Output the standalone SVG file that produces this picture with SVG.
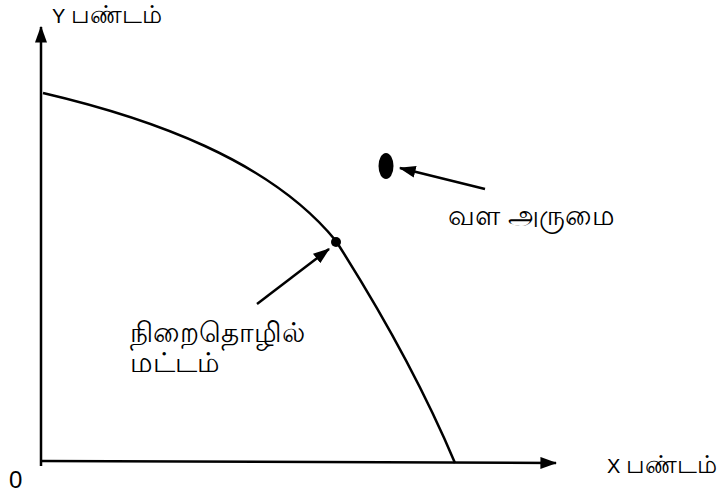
<svg xmlns="http://www.w3.org/2000/svg" width="717" height="495" viewBox="0 0 717 495">
<style>
.ln{fill:none;stroke:#000;stroke-width:2.5}
.t{font-family:"Liberation Sans","Noto Sans",sans-serif;font-size:20px;fill:#000}
.ta{font-size:25px}
.tb{font-size:28px}
</style>
<defs>
<marker id="ah" viewBox="0 0 14 10" refX="13" refY="5" markerWidth="6.8" markerHeight="4.8" markerUnits="strokeWidth" orient="auto">
<path d="M0,0 L14,5 L0,10 Z" fill="#000"/>
</marker>
</defs>
<rect width="717" height="495" fill="#fff"/>
<g id="connectors">
<line class="ln" x1="41" y1="466" x2="41" y2="27" marker-end="url(#ah)"/>
<line class="ln" x1="40" y1="461" x2="556" y2="463" marker-end="url(#ah)"/>
<path class="ln" d="M43,93 C150,118 270,160 336,241 C380,310 420,380 455,463"/>
<line class="ln" x1="485" y1="189" x2="400" y2="168" marker-end="url(#ah)"/>
<line class="ln" x1="257" y1="304" x2="329" y2="249" marker-end="url(#ah)"/>
</g>
<g id="point-full">
<circle cx="336" cy="242" r="5" fill="#000"/>
</g>
<g id="point-scarcity">
<ellipse cx="386" cy="166" rx="7.5" ry="13" fill="#000"/>
</g>
<g id="labels">
<text class="t" x="52" y="23">Y <tspan class="ta">பண்டம்</tspan></text>
<text class="t" x="607" y="473">X <tspan class="ta">பண்டம்</tspan></text>
<text class="t" x="9" y="488" style="font-size:24px">0</text>
<text class="t tb" x="448" y="225">வள  அருமை</text>
<text class="t tb" x="130" y="342">நிறைதொழில்</text>
<text class="t tb" x="130" y="372">மட்டம்</text>
</g>
</svg>
